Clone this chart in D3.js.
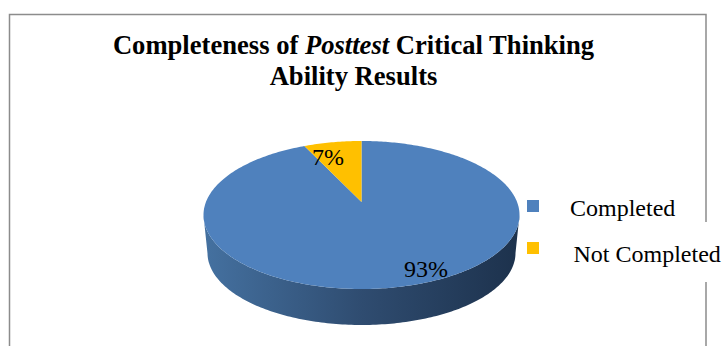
<!DOCTYPE html>
<html>
<head>
<meta charset="utf-8">
<script src="https://cdn.jsdelivr.net/npm/d3@7"></script>
<style>
  html, body { margin: 0; padding: 0; background: #fff; }
  text { font-family: "Liberation Serif", serif; fill: #000; }
</style>
</head>
<body>
<div id="chart"></div>
<script>
// chart data
const categories = ["Completed", "Not Completed"];
const values = [93, 7];
const sliceColors = ["#4f81bd", "#ffc000"];

const width = 724, height = 346;

const svg = d3.select("#chart").append("svg")
    .attr("width", width)
    .attr("height", height)
    .style("display", "block");

// gradient for the side wall of the pie
const grad = svg.append("defs").append("linearGradient")
    .attr("id", "sideGrad")
    .attr("gradientUnits", "userSpaceOnUse")
    .attr("x1", 208).attr("x2", 516).attr("y1", 0).attr("y2", 0);
grad.append("stop").attr("offset", "0").attr("stop-color", "#44709f");
grad.append("stop").attr("offset", "0.5").attr("stop-color", "#2f4c70");
grad.append("stop").attr("offset", "1").attr("stop-color", "#1d324d");

// frame, the right side is cut by the legend box
svg.append("path")
    .attr("d", "M9.5,346V14.5H706V222M706,282V346")
    .attr("fill", "none")
    .attr("stroke", "#8c8c8c")
    .attr("stroke-width", 1.5);

// title
const title = svg.append("text")
    .attr("text-anchor", "middle")
    .attr("font-size", 26.6)
    .attr("font-weight", "bold");
const line1 = title.append("tspan").attr("x", 353.5).attr("y", 54);
line1.append("tspan").text("Completeness of ");
line1.append("tspan").attr("font-style", "italic").text("Posttest");
line1.append("tspan").text(" Critical Thinking");
title.append("tspan").attr("x", 353.5).attr("y", 85).text("Ability Results");

// 3d look: the tilted disc is a perspective view of a circle,
// so the pie center sits above the center of the drawn ellipse
const k = 0.176;
function project(theta, e) {
    const u = Math.sin(theta), v = Math.cos(theta);
    const d = 1 + k * v;
    return [
        e.cx + e.rx * u * Math.sqrt(1 - k * k) / d,
        e.cy - e.ry * (v + k) / d
    ];
}

const topFace = { cx: 361.5, cy: 215, rx: 158, ry: 74 };
const bottomFace = { cx: 361.5, cy: 253, rx: 154, ry: 72 };

const arcs = d3.pie().sort(null)(values);
const line = d3.line();

function arcPoints(a, e) {
    const n = Math.ceil((a.endAngle - a.startAngle) * 60);
    return d3.range(n + 1).map(i =>
        project(a.startAngle + (a.endAngle - a.startAngle) * i / n, e));
}

// side wall, only the front half of the disc shows
const isFront = (p, e) => p[1] >= e.cy;
const frontTop = arcPoints(arcs[0], topFace).filter(p => isFront(p, topFace));
const frontBottom = arcPoints(arcs[0], bottomFace).filter(p => isFront(p, bottomFace));
svg.append("path")
    .attr("d", line(frontTop.concat(frontBottom.reverse())) + "Z")
    .attr("fill", "url(#sideGrad)");

// top face
const apexPoint = [topFace.cx, topFace.cy - topFace.ry * k];
svg.append("g").selectAll("path")
    .data(arcs)
    .join("path")
    .attr("d", d => line([apexPoint].concat(arcPoints(d, topFace))) + "Z")
    .attr("fill", (d, i) => sliceColors[i]);

// data labels
const labelPos = [[426, 277], [328, 165]];
svg.append("g").selectAll("text")
    .data(values)
    .join("text")
    .attr("x", (d, i) => labelPos[i][0])
    .attr("y", (d, i) => labelPos[i][1])
    .attr("text-anchor", "middle")
    .attr("font-size", 24)
    .text(d => d + "%");

// legend
const legendY = d3.scalePoint().domain(categories).range([206, 248]);
const legendTextX = [570, 573.5];
const legendTextY = [216, 262];
svg.append("g").selectAll("rect")
    .data(categories)
    .join("rect")
    .attr("x", 527)
    .attr("y", d => legendY(d) - 6)
    .attr("width", 12)
    .attr("height", 12)
    .attr("fill", (d, i) => sliceColors[i]);
svg.append("g").selectAll("text")
    .data(categories)
    .join("text")
    .attr("x", (d, i) => legendTextX[i])
    .attr("y", (d, i) => legendTextY[i])
    .attr("font-size", 24)
    .text(d => d);
</script>
</body>
</html>
